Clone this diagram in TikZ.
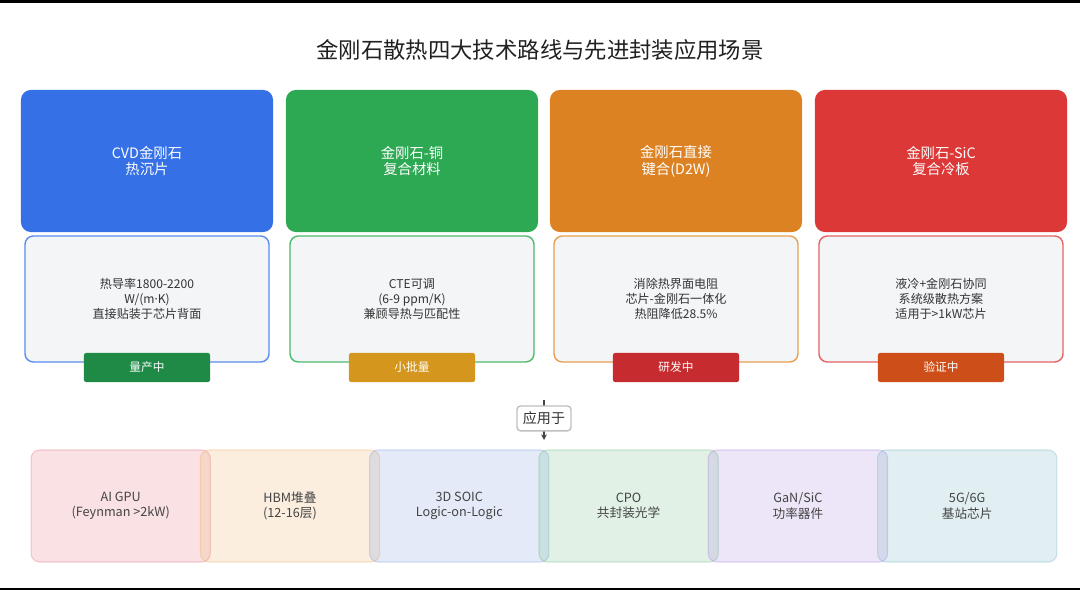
\documentclass[tikz,border=0pt]{standalone}
\usepackage{fontspec}
\setmainfont{Noto Sans CJK SC}
\newfontfamily\latinfont{Noto Sans}
\usetikzlibrary{arrows.meta}

% route colours
\definecolor{cvdblue}{HTML}{3570E6}
\definecolor{cugreen}{HTML}{2DA853}
\definecolor{dtworange}{HTML}{DD8222}
\definecolor{sicred}{HTML}{DC3838}
\definecolor{cvdline}{HTML}{5B8DEF}
\definecolor{culine}{HTML}{4CBB6C}
\definecolor{dtwline}{HTML}{E8A050}
\definecolor{sicline}{HTML}{E86262}
% badge colours
\definecolor{massgreen}{HTML}{1E8A45}
\definecolor{smallgold}{HTML}{D4961C}
\definecolor{rdred}{HTML}{C62B30}
\definecolor{testorange}{HTML}{CE4E1A}
% application colours
\definecolor{gpupink}{RGB}{225,105,120}
\definecolor{hbmpeach}{RGB}{235,170,95}
\definecolor{soicblue}{RGB}{120,150,220}
\definecolor{cpogreen}{RGB}{105,185,130}
\definecolor{ganpurple}{RGB}{165,125,220}
\definecolor{fivegteal}{RGB}{105,175,190}
\definecolor{descgray}{HTML}{F3F5F7}
\definecolor{desctext}{HTML}{333333}
\definecolor{apptext}{HTML}{444444}

\tikzset{
  routebox/.style={rounded corners=7pt, minimum width=6.3cm, minimum height=3.55cm,
    text=white, align=center, font=\fontsize{10.2}{12}\selectfont},
  descbox/.style={draw, line width=1pt, rounded corners=6pt, fill=descgray,
    minimum width=6.1cm, minimum height=3.15cm, align=center, text=desctext,
    font=\fontsize{8.6}{10.8}\selectfont},
  badgebox/.style={rounded corners=1.5pt, minimum width=3.15cm, minimum height=0.725cm,
    text=white, font=\fontsize{8.3}{10}\selectfont},
  appbox/.style={rounded corners=6pt, minimum width=4.48cm, minimum height=2.8cm,
    line width=0.8pt, fill opacity=0.2, draw opacity=0.3, text opacity=1,
    align=center, text=apptext, font=\fontsize{9}{10.8}\selectfont},
  applabel/.style={draw=black!25, fill=white, rounded corners=2.5pt, text=desctext,
    minimum width=1.35cm, minimum height=0.62cm, font=\fontsize{10}{12}\selectfont},
}

\begin{document}
\begin{tikzpicture}[x=0.025cm, y=-0.025cm]
    \fill[white] (0,0) rectangle (1080,590);
    \fill[black] (0,0) rectangle (1080,3);
    \fill[black] (0,588) rectangle (1080,590);

    \node[text=black!87, font=\fontsize{15.9}{18}\selectfont] (title) at (540,50)
        {金刚石散热四大技术路线与先进封装应用场景};

    % four routes: header, details, status
    \foreach \cx/\n/\fillc/\linec/\badgec/\name/\desc/\status in {
        147/1/cvdblue/cvdline/massgreen/{CVD金刚石\\热沉片}/{热导率1800-2200\\W/(m{\latinfont ·}K)\\直接贴装于芯片背面}/量产中,
        412/2/cugreen/culine/smallgold/{金刚石-铜\\复合材料}/{CTE可调\\(6-9 ppm/K)\\兼顾导热与匹配性}/小批量,
        676/3/dtworange/dtwline/rdred/{金刚石直接\\键合(D2W)}/{消除热界面电阻\\芯片-金刚石一体化\\热阻降低28.5\%}/研发中,
        941/4/sicred/sicline/testorange/{金刚石-SiC\\复合冷板}/{液冷+金刚石协同\\系统级散热方案\\适用于>1kW芯片}/验证中}{
        \node[routebox, fill=\fillc] (route\n) at (\cx,161) {\name};
        \node[descbox, draw=\linec] (desc\n) at (\cx,299) {\desc};
        \node[badgebox, fill=\badgec] (badge\n) at (\cx,367.5) {\status};
    }

    % applied to
    \coordinate (apptop) at (544,400);
    \coordinate (appbot) at (544,440);
    \draw[line width=1pt, apptext, -{Stealth[length=4pt,width=4pt]}] (apptop) -- (appbot)
        node[pos=0.46, applabel] (applied) {应用于};

    % application scenarios
    \foreach \cx/\n/\c/\txt in {
        120.7/1/gpupink/{AI GPU\\(Feynman >2kW)},
        290.0/2/hbmpeach/{HBM堆叠\\(12-16层)},
        459.3/3/soicblue/{3D SOIC\\Logic-on-Logic},
        628.6/4/cpogreen/{CPO\\共封装光学},
        797.9/5/ganpurple/{GaN/SiC\\功率器件},
        967.2/6/fivegteal/{5G/6G\\基站芯片}}{
        \node[appbox, fill=\c, draw=\c] (app\n) at (\cx,506) {\txt};
    }
\end{tikzpicture}
\end{document}
